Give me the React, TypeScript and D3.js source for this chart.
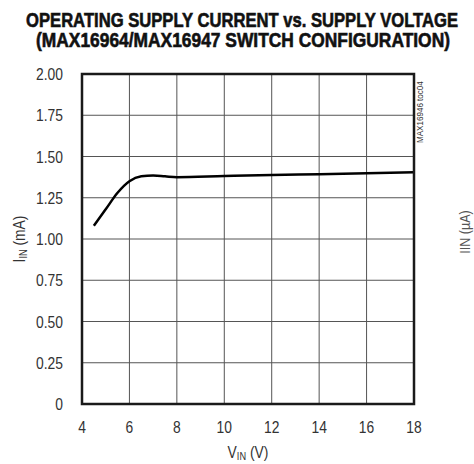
import React, { useRef, useEffect } from 'react';
import * as d3 from 'd3';

// supply voltage (V) vs operating supply current (mA)
const vin = [4.5, 5.0, 5.5, 6.0, 6.5, 7.0, 7.5, 8.0, 10, 12, 14, 16, 18];
const iin = [1.08, 1.18, 1.28, 1.35, 1.38, 1.385, 1.38, 1.375, 1.382, 1.388, 1.393, 1.398, 1.405];

const xTicks = [4, 6, 8, 10, 12, 14, 16, 18];
const yTicks = [0, 0.25, 0.5, 0.75, 1.0, 1.25, 1.5, 1.75, 2.0];

const titleLines = [
  'OPERATING SUPPLY CURRENT vs. SUPPLY VOLTAGE',
  '(MAX16964/MAX16947 SWITCH CONFIGURATION)'
];

const W = 474;
const H = 464;
const FONT = "'Liberation Sans', Arial, sans-serif";
const NARROW = 0.84;

const App: React.FC = () => {
  const svgRef = useRef<SVGSVGElement>(null);

  useEffect(() => {
    if (!svgRef.current) return;
    const svg = d3.select(svgRef.current);
    svg.selectAll('*').remove();

    const margin = { top: 74, right: 60, bottom: 60, left: 82 };
    const innerW = W - margin.left - margin.right;
    const innerH = H - margin.top - margin.bottom;

    const x = d3.scaleLinear().domain([4, 18]).range([0, innerW]);
    const y = d3.scaleLinear().domain([0, 2]).range([innerH, 0]);

    // title, squeezed to a condensed look
    const titleSpots = [
      { cx: 242, y: 27, w: 432 },
      { cx: 243, y: 47, w: 414 }
    ];
    titleLines.forEach((t, i) => {
      const el = svg.append('text')
        .attr('text-anchor', 'middle')
        .style('font-family', FONT).style('font-weight', 'bold').style('font-size', '19.5px')
        .style('fill', '#111').style('stroke', '#111').style('stroke-width', 0.6)
        .text(t);
      const natural = (el.node() as SVGTextElement).getComputedTextLength();
      const sx = titleSpots[i].w / natural;
      el.attr('transform', `translate(${titleSpots[i].cx},${titleSpots[i].y}) scale(${sx},1)`);
    });

    const g = svg.append('g').attr('transform', `translate(${margin.left},${margin.top})`);

    // grid
    g.selectAll('.vgrid')
      .data(xTicks.slice(1, -1))
      .enter().append('line')
      .attr('x1', d => x(d)).attr('x2', d => x(d))
      .attr('y1', 0).attr('y2', innerH)
      .attr('stroke', '#555').attr('stroke-width', 1);
    g.selectAll('.hgrid')
      .data(yTicks.slice(1, -1))
      .enter().append('line')
      .attr('x1', 0).attr('x2', innerW)
      .attr('y1', d => y(d)).attr('y2', d => y(d))
      .attr('stroke', '#555').attr('stroke-width', 1);

    // curve
    const line = d3.line<number>()
      .x((_, i) => x(vin[i]))
      .y(d => y(d))
      .curve(d3.curveMonotoneX);
    g.append('path')
      .datum(iin)
      .attr('d', line)
      .attr('fill', 'none')
      .attr('stroke', '#000')
      .attr('stroke-width', 2.5);

    // frame
    g.append('rect')
      .attr('x', 0).attr('y', 0).attr('width', innerW).attr('height', innerH)
      .attr('fill', 'none').attr('stroke', '#1a1a1a').attr('stroke-width', 2.5);

    // tick labels
    g.selectAll('.ylab')
      .data(yTicks)
      .enter().append('text')
      .attr('transform', d => `translate(-19,${y(d) + 6}) scale(${NARROW},1)`)
      .attr('text-anchor', 'end')
      .style('font-family', FONT).style('font-size', '16.5px').style('fill', '#333')
      .text(d => (d === 0 ? '0' : d3.format('.2f')(d)));

    g.selectAll('.xlab')
      .data(xTicks)
      .enter().append('text')
      .attr('transform', d => `translate(${x(d)},${innerH + 29}) scale(${NARROW},1)`)
      .attr('text-anchor', 'middle')
      .style('font-family', FONT).style('font-size', '16.5px').style('fill', '#333')
      .text(d => String(d));

    // axis titles
    const xt = svg.append('text')
      .attr('transform', `translate(${margin.left + innerW / 2},458) scale(${NARROW},1)`)
      .attr('text-anchor', 'middle')
      .style('font-family', FONT).style('font-size', '16.5px').style('fill', '#333');
    xt.append('tspan').text('V');
    xt.append('tspan').attr('dy', 2).style('font-size', '11px').text('IN');
    xt.append('tspan').attr('dy', -2).text(' (V)');

    const yt = svg.append('text')
      .attr('transform', `translate(25,${margin.top + innerH / 2}) rotate(-90) scale(${NARROW},1)`)
      .attr('text-anchor', 'middle')
      .style('font-family', FONT).style('font-size', '16.5px').style('fill', '#333');
    yt.append('tspan').text('I');
    yt.append('tspan').attr('dy', 2).style('font-size', '11px').text('IN');
    yt.append('tspan').attr('dy', -2).text(' (mA)');

    // neighbouring chart's axis title at the right edge
    svg.append('text')
      .attr('transform', `translate(470,232) rotate(-90) scale(${NARROW},1)`)
      .attr('text-anchor', 'middle')
      .style('font-family', FONT).style('font-size', '15px').style('fill', '#555')
      .text('IIN (\u00b5A)');

    // figure id
    svg.append('text')
      .attr('transform', `translate(423,143) rotate(-90) scale(0.85,1)`)
      .style('font-family', FONT).style('font-size', '9.5px').style('fill', '#333')
      .text('MAX16946 toc04');
  }, []);

  return (
    <svg
      ref={svgRef}
      width={W}
      height={H}
      viewBox={`0 0 ${W} ${H}`}
      style={{ position: 'absolute', left: 0, top: 0, background: '#fff' }}
    />
  );
};

export default App;
